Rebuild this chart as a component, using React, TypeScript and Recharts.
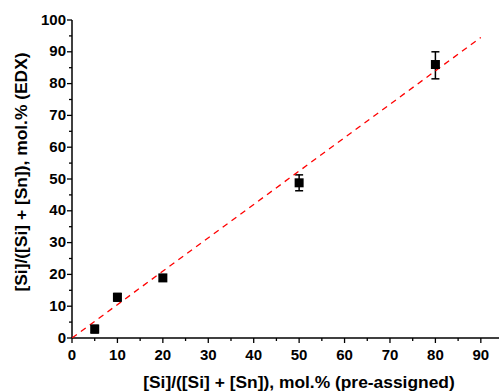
import { ErrorBar, Label, Scatter, ScatterChart, XAxis, YAxis } from "recharts";

// measured points
const preAssigned = [5, 10, 20, 50, 80];
const edxValues = [2.8, 12.8, 18.9, 48.8, 86.0];
const errLow = [1.2, 1.2, 1.0, 2.5, 4.5];
const errHigh = [1.2, 1.2, 1.0, 2.5, 4.0];

// dashed red guide line
const fitX = [0, 90];
const fitY = [0, 94.5];

const xTicks = [0, 5, 10, 15, 20, 25, 30, 35, 40, 45, 50, 55, 60, 65, 70, 75, 80, 85, 90];
const yTicks = [0, 5, 10, 15, 20, 25, 30, 35, 40, 45, 50, 55, 60, 65, 70, 75, 80, 85, 90, 95, 100];

const points = preAssigned.map((x, i) => ({
  x,
  y: edxValues[i],
  err: [errLow[i], errHigh[i]],
}));
const fitData = fitX.map((x, i) => ({ x, y: fitY[i] }));

const FONT = "'Liberation Sans', Arial, sans-serif";

const XTick = ({ x, y, payload }: any) => {
  const v = payload.value;
  const major = v % 10 === 0;
  return (
    <g>
      <line x1={x} x2={x} y1={y} y2={y + (major ? 5 : 3)} stroke="#000" strokeWidth={1.3} />
      {major && (
        <text x={x} y={y + 21.5} textAnchor="middle" fontFamily={FONT} fontWeight="bold" fontSize={15} fill="#000">
          {v}
        </text>
      )}
    </g>
  );
};

const YTick = ({ x, y, payload }: any) => {
  const v = payload.value;
  const major = v % 10 === 0;
  return (
    <g>
      <line x1={x} x2={x - (major ? 5 : 3)} y1={y} y2={y} stroke="#000" strokeWidth={1.3} />
      {major && (
        <text x={x - 6} y={y + 4.5} textAnchor="end" fontFamily={FONT} fontWeight="bold" fontSize={15} fill="#000">
          {v}
        </text>
      )}
    </g>
  );
};

const Square = ({ cx, cy }: any) => <rect x={cx - 4.5} y={cy - 4.5} width={9} height={9} fill="#000" />;

export default function App() {
  return (
    <div style={{ position: "absolute", left: 0, top: 0, background: "#fff" }}>
      <ScatterChart width={499} height={392} margin={{ top: 20, right: 0, bottom: 0, left: 0 }}>
        <XAxis
          type="number"
          dataKey="x"
          domain={[0, 94]}
          ticks={xTicks}
          interval={0}
          tickSize={0}
          tickMargin={0}
          tickLine={false}
          tick={<XTick />}
          height={54}
          axisLine={{ stroke: "#000", strokeWidth: 1.5 }}
          allowDataOverflow
        >
          <Label
            content={() => (
              <text x={299} y={388} textAnchor="middle" fontFamily={FONT} fontWeight="bold" fontSize={17.4} fill="#000">
                [Si]/([Si] + [Sn]), mol.% (pre-assigned)
              </text>
            )}
          />
        </XAxis>
        <YAxis
          type="number"
          dataKey="y"
          domain={[0, 100]}
          ticks={yTicks}
          interval={0}
          tickSize={0}
          tickMargin={0}
          tickLine={false}
          tick={<YTick />}
          width={72}
          axisLine={{ stroke: "#000", strokeWidth: 1.5 }}
          allowDataOverflow
        >
          <Label
            content={() => (
              <text
                x={0}
                y={0}
                transform="translate(27 172) rotate(-90)"
                textAnchor="middle"
                fontFamily={FONT}
                fontWeight="bold"
                fontSize={17.4}
                fill="#000"
              >
                [Si]/([Si] + [Sn]), mol.% (EDX)
              </text>
            )}
          />
        </YAxis>
        <Scatter
          data={fitData}
          line={{ stroke: "#ff0000", strokeWidth: 1.3, strokeDasharray: "6 5" }}
          shape={() => null}
          isAnimationActive={false}
        />
        <Scatter data={points} shape={<Square />} isAnimationActive={false}>
          <ErrorBar dataKey="err" direction="y" width={4} stroke="#000" strokeWidth={1.5} />
        </Scatter>
      </ScatterChart>
    </div>
  );
}
